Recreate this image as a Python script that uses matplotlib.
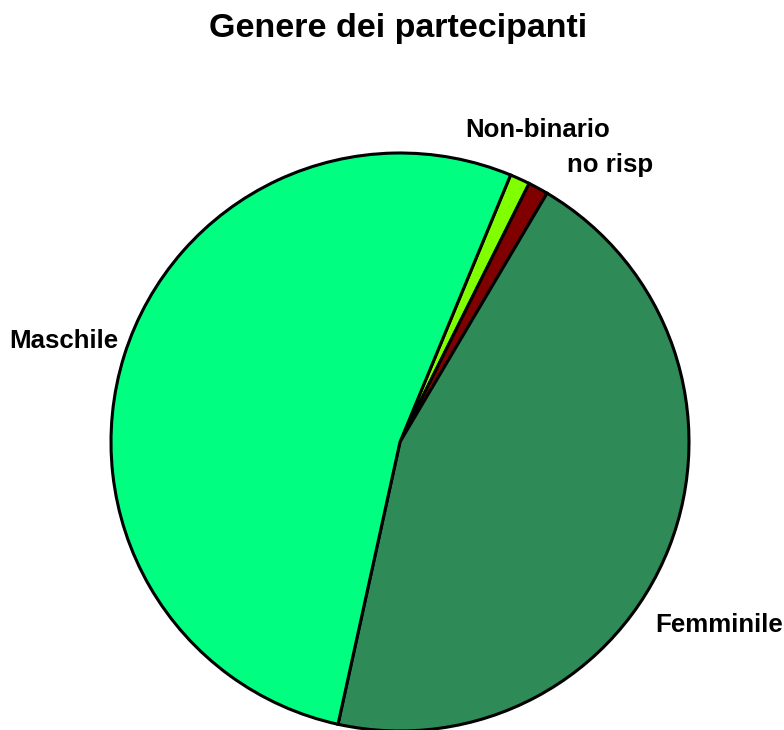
import matplotlib.pyplot as plt

plt.rcParams['font.family'] = ['Liberation Sans', 'DejaVu Sans']

labels = ['Non-binario', 'no risp', 'Femminile', 'Maschile']
counts = [1, 1, 40, 47]
colors = ['#80ff00', '#800000', '#2e8b57', '#00ff80']

fig = plt.figure(figsize=(7.84, 7.30), dpi=100)
ax = fig.add_axes([0, 0, 1, 1])

ax.pie(counts, colors=colors, startangle=67.5, counterclock=False, radius=1,
       wedgeprops=dict(edgecolor='black', linewidth=2.2, joinstyle='miter'))

# pie centre (400, 442) px, radius 289 px
r_px = 289
ax.set_aspect('auto')
ax.set_xlim(-400 / r_px, 384 / r_px)
ax.set_ylim(-(730 - 442) / r_px, 442 / r_px)
ax.axis('off')

lab_pos = {
    'Non-binario': (0.476, 1.055, 'center'),
    'no risp': (0.727, 0.934, 'center'),
    'Femminile': (0.882, -0.657, 'left'),
    'Maschile': (-0.976, 0.325, 'right'),
}
for name in labels:
    x, y, ha = lab_pos[name]
    ax.text(x, y, name, ha=ha, va='baseline', fontsize=18.6, fontweight='bold')

fig.text(398 / 784, 1 - 37 / 730, 'Genere dei partecipanti', ha='center',
         va='baseline', fontsize=24.5, fontweight='bold')

fig.savefig('out.png', dpi=100)
